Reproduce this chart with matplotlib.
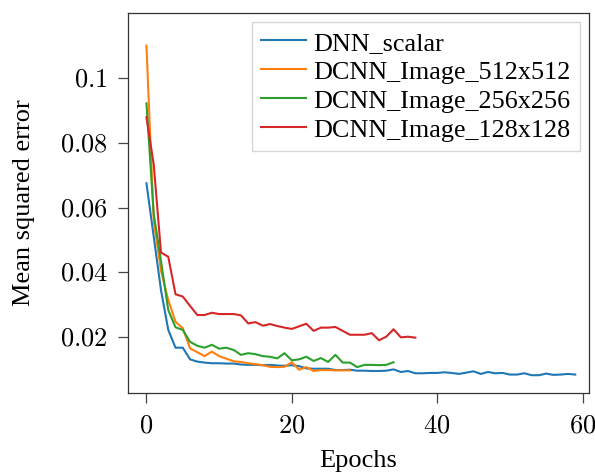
import matplotlib
matplotlib.use("Agg")
import matplotlib.pyplot as plt
from matplotlib.ticker import FuncFormatter

# training curves (mean squared error per epoch)
dnn_scalar = [0.0675, 0.051, 0.0345, 0.0222, 0.0167, 0.0167, 0.0131, 0.0124, 0.0121, 0.0119,
              0.0119, 0.0118, 0.0118, 0.0115, 0.0114, 0.0114, 0.0113, 0.0114, 0.0112, 0.0111,
              0.0113, 0.0110, 0.0103, 0.0102, 0.0102, 0.0102, 0.0098, 0.0098, 0.0099, 0.0096,
              0.0096, 0.0095, 0.0095, 0.0096, 0.0100, 0.0092, 0.0095, 0.0088, 0.0088, 0.0089,
              0.0089, 0.0091, 0.0089, 0.0086, 0.0090, 0.0094, 0.0086, 0.0092, 0.0088, 0.0089,
              0.0084, 0.0084, 0.0088, 0.0082, 0.0082, 0.0087, 0.0083, 0.0084, 0.0086, 0.0084]
dcnn_512 = [0.110, 0.056, 0.0405, 0.0314, 0.0247, 0.0227, 0.0165, 0.0153, 0.0141, 0.0155,
            0.0141, 0.0133, 0.0125, 0.0123, 0.0119, 0.0116, 0.0113, 0.0108, 0.0107, 0.0108,
            0.0122, 0.0099, 0.0107, 0.0095, 0.0098, 0.0098, 0.0097, 0.0097, 0.0097]
dcnn_256 = [0.0922, 0.058, 0.0435, 0.0283, 0.0230, 0.0222, 0.0185, 0.0173, 0.0167, 0.0176,
            0.0164, 0.0167, 0.0160, 0.0145, 0.0150, 0.0147, 0.0141, 0.0139, 0.0134, 0.0150,
            0.0128, 0.0131, 0.0139, 0.0126, 0.0135, 0.0123, 0.0145, 0.0121, 0.0121, 0.0107,
            0.0114, 0.0114, 0.0113, 0.0114, 0.0122]
dcnn_128 = [0.0879, 0.0733, 0.0461, 0.0448, 0.0332, 0.0325, 0.0296, 0.0268, 0.0268, 0.0275,
            0.0271, 0.0271, 0.0271, 0.0267, 0.0242, 0.0246, 0.0235, 0.0240, 0.0234, 0.0229,
            0.0225, 0.0233, 0.0241, 0.0219, 0.0229, 0.0229, 0.0231, 0.0219, 0.0207, 0.0207,
            0.0207, 0.0212, 0.0190, 0.0201, 0.0224, 0.0199, 0.0201, 0.0198]

series = [("DNN_scalar", dnn_scalar), ("DCNN_Image_512x512", dcnn_512),
          ("DCNN_Image_256x256", dcnn_256), ("DCNN_Image_128x128", dcnn_128)]

plt.rcParams['font.family'] = ['Liberation Serif', 'DejaVu Serif']
plt.rcParams['mathtext.fontset'] = 'cm'

fig = plt.figure(figsize=(5.95, 4.75), dpi=100)
ax = fig.add_axes([0.215, 0.1726, 0.775, 0.8])

for name, vals in series:
    ax.plot(range(len(vals)), vals, lw=1.5, label=name)

ax.set_xlim(-2.55, 60.9)
ax.set_ylim(0.0027, 0.1201)
ax.set_xticks([0, 20, 40, 60])
ax.set_yticks([0.02, 0.04, 0.06, 0.08, 0.1])
fmt = FuncFormatter(lambda v, p: "$%g$" % round(v, 3))
ax.xaxis.set_major_formatter(fmt)
ax.yaxis.set_major_formatter(fmt)
ax.tick_params(labelsize=19, length=7.3, width=0.9, color='#444444')
ax.tick_params(axis='y', pad=7)
ax.tick_params(axis='x', pad=9)
for s in ax.spines.values():
    s.set_linewidth(0.9)
    s.set_color('#333333')

ax.set_xlabel("Epochs", fontsize=19, labelpad=9)
ax.set_ylabel("Mean squared error", fontsize=19, labelpad=18)
ax.legend(loc='upper right', fontsize=18.8, handlelength=1.7, handletextpad=0.3,
          borderpad=0.35, borderaxespad=0.35, labelspacing=0.22,
          framealpha=0.8, fancybox=False)

fig.savefig("out.png", dpi=100)
